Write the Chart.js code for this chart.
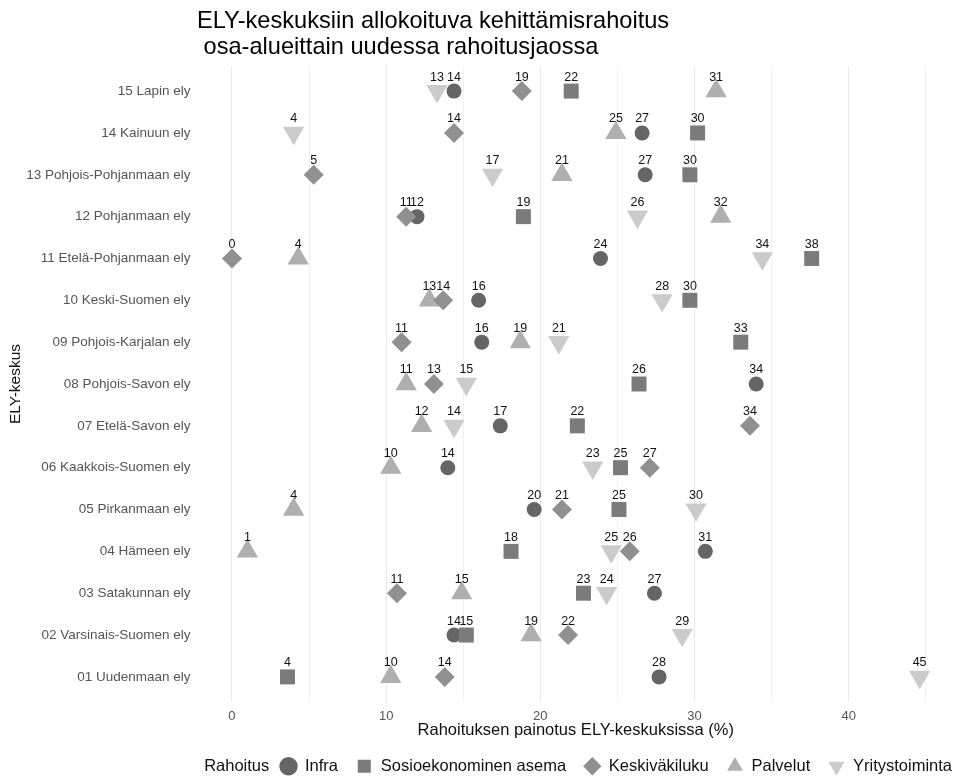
<!DOCTYPE html>
<html>
<head>
<meta charset="utf-8">
<script src="https://cdn.jsdelivr.net/npm/chart.js@4.4.1/dist/chart.umd.min.js"></script>
<style>
html, body { margin: 0; padding: 0; background: #ffffff; }
#wrap { width: 955px; height: 776px; }
</style>
</head>
<body>
<div id="wrap"><canvas id="c" width="955" height="776"></canvas></div>
<script>
// ---------- DATA ----------
const titleLines = ["ELY-keskuksiin allokoituva kehittämisrahoitus", " osa-alueittain uudessa rahoitusjaossa"];
const xAxisTitle = "Rahoituksen painotus ELY-keskuksissa (%)";
const yAxisTitle = "ELY-keskus";
const legendTitle = "Rahoitus";

const categories = [
  "01 Uudenmaan ely",
  "02 Varsinais-Suomen ely",
  "03 Satakunnan ely",
  "04 Hämeen ely",
  "05 Pirkanmaan ely",
  "06 Kaakkois-Suomen ely",
  "07 Etelä-Savon ely",
  "08 Pohjois-Savon ely",
  "09 Pohjois-Karjalan ely",
  "10 Keski-Suomen ely",
  "11 Etelä-Pohjanmaan ely",
  "12 Pohjanmaan ely",
  "13 Pohjois-Pohjanmaan ely",
  "14 Kainuun ely",
  "15 Lapin ely"
];

const seriesNames = ["Infra", "Sosioekonominen asema", "Keskiväkiluku", "Palvelut", "Yritystoiminta"];

const infra           = [27.7, 14.4, 27.4, 30.7, 19.6, 14.0, 17.4, 34.0, 16.2, 16.0, 23.9, 12.0, 26.8, 26.6, 14.4];
const sosioekonominen = [3.6, 15.2, 22.8, 18.1, 25.1, 25.2, 22.4, 26.4, 33.0, 29.7, 37.6, 18.9, 29.7, 30.2, 22.0];
const keskivakiluku   = [13.8, 21.8, 10.7, 25.8, 21.4, 27.1, 33.6, 13.1, 11.0, 13.7, 0.0, 11.3, 5.3, 14.4, 18.8];
const palvelut        = [10.3, 19.4, 14.9, 1.0, 4.0, 10.3, 12.3, 11.3, 18.7, 12.8, 4.3, 31.7, 21.4, 24.9, 31.4];
const yritystoiminta  = [44.6, 29.2, 24.3, 24.6, 30.1, 23.4, 14.4, 15.2, 21.2, 27.9, 34.4, 26.3, 16.9, 4.0, 13.3];

const xTickValues = [0, 5, 10, 15, 20, 25, 30, 35, 40, 45];
const xTickLabels = ["0", "", "10", "", "20", "", "30", "", "40", ""];

// ---------- STYLE ----------
const FONT = '"Liberation Sans", Arial, sans-serif';
const seriesValues = [infra, sosioekonominen, keskivakiluku, palvelut, yritystoiminta];
const seriesStyle = [
  { color: '#656565', pointStyle: 'circle',   radius: 7.5,  rotation: 0,   order: 2 },
  { color: '#7b7b7b', pointStyle: 'rect',     radius: 10.6, rotation: 0,   order: 1 },
  { color: '#909090', pointStyle: 'rectRot',  radius: 10,   rotation: 0,   order: 0 },
  { color: '#afafaf', pointStyle: 'triangle', radius: 12.3, rotation: 0,   order: 4 },
  { color: '#cbcbcb', pointStyle: 'triangle', radius: 12.3, rotation: 180, order: 3 }
];
const LEGEND_SHIFT = 16;

// ggplot-like expansion of 5% of the data range
const allVals = seriesValues.flat();
const dMin = Math.min(...allVals), dMax = Math.max(...allVals);
const ext = (dMax - dMin) * 0.05;

const datasets = seriesNames.map((name, s) => ({
  label: name,
  data: seriesValues[s].map((v, i) => ({ x: v, y: i + 1 })),
  backgroundColor: seriesStyle[s].color,
  borderColor: seriesStyle[s].color,
  borderWidth: 0,
  pointBackgroundColor: seriesStyle[s].color,
  pointBorderColor: seriesStyle[s].color,
  pointBorderWidth: 0,
  pointStyle: seriesStyle[s].pointStyle,
  pointRadius: seriesStyle[s].radius,
  pointHoverRadius: seriesStyle[s].radius,
  pointRotation: seriesStyle[s].rotation,
  order: seriesStyle[s].order,
  showLine: false,
  clip: false
}));

// ---------- PLUGINS ----------
const titlePlugin = {
  id: 'mainTitle',
  afterDraw(chart) {
    const c = chart.ctx;
    c.save();
    c.font = '23.6px ' + FONT;
    c.fillStyle = '#000000';
    c.textAlign = 'left';
    c.textBaseline = 'alphabetic';
    c.fillText(titleLines[0], 197, 28);
    c.fillText(titleLines[1], 197, 54);
    c.restore();
  }
};

const pointLabelPlugin = {
  id: 'pointLabels',
  afterDatasetsDraw(chart) {
    const c = chart.ctx;
    c.save();
    c.font = '12.5px ' + FONT;
    c.fillStyle = '#111111';
    c.textAlign = 'center';
    c.textBaseline = 'middle';
    chart.data.datasets.forEach((ds, di) => {
      const meta = chart.getDatasetMeta(di);
      meta.data.forEach((el, i) => {
        const v = ds.data[i].x;
        c.fillText(String(Math.round(v)), el.x, el.y - 14);
      });
    });
    c.restore();
  }
};

const legendAdjustPlugin = {
  id: 'legendAdjust',
  beforeUpdate(chart) {
    const lg = chart.legend;
    if (lg && !lg._patched) {
      const origFit = lg.fit.bind(lg);
      lg.fit = function () {
        origFit();
        this.height = 36;
      };
      const origDraw = lg.draw.bind(lg);
      lg.draw = function () {
        this.right += LEGEND_SHIFT;
        origDraw();
        this.right -= LEGEND_SHIFT;
      };
      lg._patched = true;
    }
  },
  afterDraw(chart) {
    const lg = chart.legend;
    if (!lg || !lg.legendHitBoxes || !lg.legendHitBoxes.length) return;
    const hb = lg.legendHitBoxes[0];
    const c = chart.ctx;
    c.save();
    c.font = '16.5px ' + FONT;
    c.fillStyle = '#111111';
    c.textAlign = 'right';
    c.textBaseline = 'middle';
    c.fillText(legendTitle, hb.left + LEGEND_SHIFT - 11, hb.top + hb.height / 2);
    c.restore();
  }
};

// ---------- CHART ----------
new Chart(document.getElementById('c'), {
  type: 'scatter',
  data: { datasets },
  options: {
    responsive: false,
    animation: false,
    devicePixelRatio: 1,
    events: [],
    layout: { autoPadding: false, padding: { top: 66, right: 1, left: 0, bottom: 0 } },
    plugins: {
      tooltip: { enabled: false },
      title: { display: false },
      legend: {
        display: true,
        position: 'bottom',
        align: 'end',
        labels: {
          usePointStyle: true,
          boxHeight: 13,
          padding: 18,
          color: '#111111',
          font: { size: 16.5, family: FONT },
          sort: (a, b) => a.datasetIndex - b.datasetIndex
        }
      }
    },
    scales: {
      x: {
        type: 'linear',
        min: dMin - ext,
        max: dMax + ext,
        afterBuildTicks(scale) {
          scale.ticks = xTickValues.map(v => ({ value: v }));
        },
        afterFit(scale) {
          scale.height = 38;
          scale.paddingLeft = 0;
          scale.paddingRight = 0;
        },
        ticks: {
          padding: 7,
          color: '#555555',
          font: { size: 13, family: FONT },
          maxRotation: 0,
          autoSkip: false,
          callback: (v) => xTickLabels[xTickValues.indexOf(v)] ?? ''
        },
        grid: {
          drawTicks: false,
          color: (ctx) => (ctx.tick && ctx.tick.value % 10 === 0) ? '#e9e9e9' : '#f1f1f1',
          lineWidth: 1
        },
        border: { display: false },
        title: {
          display: true,
          text: xAxisTitle,
          color: '#111111',
          font: { size: 16.5, family: FONT },
          padding: { top: 0, bottom: 0 }
        }
      },
      y: {
        type: 'linear',
        min: 0.4,
        max: categories.length + 0.6,
        afterBuildTicks(scale) {
          scale.ticks = categories.map((_, i) => ({ value: i + 1 }));
        },
        afterFit(scale) { scale.width = 197.6; },
        ticks: {
          padding: 7,
          color: '#555555',
          font: { size: 13.5, family: FONT },
          autoSkip: false,
          callback: (v) => categories[Math.round(v) - 1] ?? ''
        },
        grid: { display: false, drawTicks: false },
        border: { display: false },
        title: {
          display: true,
          text: yAxisTitle,
          color: '#111111',
          font: { size: 15.5, family: FONT },
          padding: { top: 6, bottom: 0 }
        }
      }
    }
  },
  plugins: [titlePlugin, pointLabelPlugin, legendAdjustPlugin]
});
</script>
</body>
</html>
